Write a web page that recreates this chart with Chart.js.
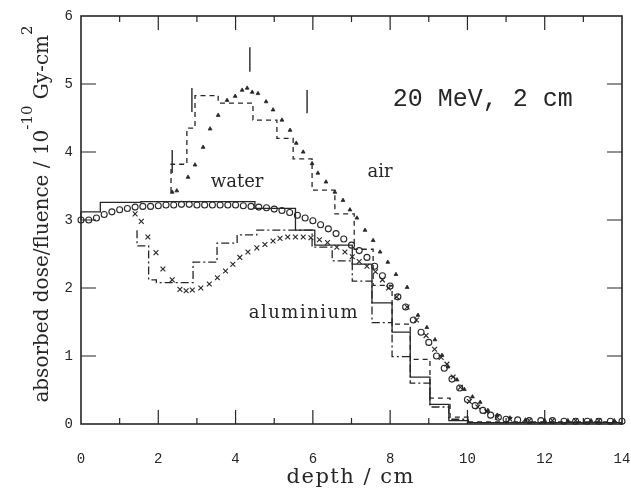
<!DOCTYPE html>
<html>
<head>
<meta charset="utf-8">
<script src="https://cdn.jsdelivr.net/npm/chart.js@4.4.1/dist/chart.umd.min.js"></script>
<style>
  html, body { margin: 0; padding: 0; background: #fff; }
  #wrap { width: 631px; height: 496px; }
</style>
</head>
<body>
<div id="wrap"><canvas id="dose"></canvas></div>
<script>
// axis ticks
const depthTicks = [0, 2, 4, 6, 8, 10, 12, 14];
const doseTicks = [0, 1, 2, 3, 4, 5, 6];

// measured depth-dose points (cm, 1e-10 Gy cm^2)
const waterDepth = [0.0, 0.2, 0.4, 0.6, 0.8, 1.0, 1.2, 1.4, 1.6, 1.8, 2.0, 2.2, 2.4, 2.6, 2.8, 3.0, 3.2, 3.4, 3.6, 3.8,
  4.0, 4.2, 4.4, 4.6, 4.8, 5.0, 5.2, 5.4, 5.6, 5.8, 6.0, 6.2, 6.4, 6.6, 6.8, 7.0, 7.2, 7.4, 7.6, 7.8,
  8.0, 8.2, 8.4, 8.6, 8.8, 9.0, 9.2, 9.4, 9.6, 9.8, 10.0, 10.2, 10.4, 10.6, 10.8, 11.0, 11.3, 11.6, 11.9, 12.2,
  12.5, 12.8, 13.1, 13.4, 13.7, 14.0];
const waterDose = [3.00, 3.00, 3.03, 3.08, 3.12, 3.15, 3.17, 3.19, 3.20, 3.20, 3.21, 3.22, 3.22, 3.23, 3.23, 3.22, 3.22, 3.22, 3.22, 3.22,
  3.22, 3.21, 3.20, 3.19, 3.18, 3.16, 3.14, 3.11, 3.07, 3.03, 2.99, 2.93, 2.87, 2.80, 2.72, 2.63, 2.55, 2.45, 2.32, 2.18,
  2.03, 1.87, 1.72, 1.53, 1.35, 1.20, 1.00, 0.82, 0.66, 0.53, 0.36, 0.27, 0.20, 0.13, 0.10, 0.07, 0.06, 0.05, 0.05, 0.05,
  0.04, 0.04, 0.04, 0.04, 0.04, 0.04];

const airDepth = [2.36, 2.48, 2.77, 2.95, 3.16, 3.34, 3.55, 3.78, 3.99, 4.17, 4.30, 4.43, 4.58, 4.79, 4.97, 5.20, 5.41, 5.57,
  5.75, 5.98, 6.13, 6.34, 6.57, 6.78, 6.96, 7.14, 7.35, 7.56, 7.74, 7.94, 8.15, 8.44, 8.72, 8.95, 9.16, 9.34, 9.50, 9.73,
  9.92, 10.13, 10.33, 10.53, 10.77, 11.10, 11.50, 12.00, 12.60, 13.20, 13.80];
const airDose = [3.41, 3.43, 3.63, 3.81, 4.07, 4.34, 4.54, 4.76, 4.82, 4.91, 4.94, 4.88, 4.86, 4.74, 4.62, 4.47, 4.32, 4.13,
  4.00, 3.83, 3.69, 3.56, 3.41, 3.29, 3.15, 3.03, 2.85, 2.70, 2.53, 2.38, 2.20, 2.01, 1.60, 1.42, 1.24, 1.01, 0.84, 0.65,
  0.51, 0.40, 0.32, 0.20, 0.13, 0.09, 0.06, 0.05, 0.05, 0.05, 0.05];

const aluDepth = [1.40, 1.56, 1.73, 1.94, 2.12, 2.36, 2.56, 2.72, 2.88, 3.10, 3.32, 3.53, 3.74, 3.93, 4.11, 4.32, 4.55, 4.76,
  4.97, 5.15, 5.35, 5.55, 5.75, 5.95, 6.17, 6.38, 6.62, 6.83, 7.02, 7.20, 7.40, 7.62, 7.80, 7.96, 8.17, 8.44, 8.68, 8.93,
  9.15, 9.32, 9.47, 9.63, 9.82, 10.05, 10.27, 10.50, 10.77, 11.10, 11.60, 12.20, 12.80, 13.40];
const aluDose = [3.09, 2.98, 2.75, 2.52, 2.28, 2.12, 1.98, 1.96, 1.97, 2.00, 2.06, 2.15, 2.25, 2.35, 2.45, 2.53, 2.59, 2.64,
  2.69, 2.73, 2.75, 2.75, 2.75, 2.74, 2.71, 2.67, 2.60, 2.53, 2.46, 2.39, 2.32, 2.24, 2.12, 2.00, 1.87, 1.72, 1.53, 1.30,
  1.10, 0.98, 0.88, 0.69, 0.54, 0.33, 0.25, 0.18, 0.10, 0.07, 0.05, 0.05, 0.05, 0.05];

// Monte Carlo histograms: bin edges and dose per bin
const waterEdges = [0, 0.5, 1.55, 4.5, 5.55, 6.05, 7.02, 7.53, 8.05, 8.52, 9.03, 9.52, 10.02, 11.0, 14];
const waterHist = [3.00, 3.12, 3.26, 3.27, 3.17, 2.85, 2.63, 2.35, 1.78, 1.35, 0.69, 0.29, 0.05, 0.02];

const airEdges = [2.33, 2.74, 2.95, 3.55, 4.45, 5.07, 5.49, 5.98, 6.57, 7.07, 7.56, 8.05, 8.52, 9.03, 9.55, 10.02, 10.6, 14];
const airHist = [3.41, 3.82, 4.35, 4.83, 4.72, 4.47, 4.20, 3.90, 3.44, 3.09, 2.57, 2.04, 1.47, 0.95, 0.38, 0.10, 0.03];

const aluEdges = [1.45, 1.75, 1.95, 2.9, 3.52, 4.04, 4.55, 5.98, 6.5, 7.02, 7.53, 8.05, 8.52, 9.03, 9.52, 10.02, 10.6, 14];
const aluHist = [2.85, 2.62, 2.12, 2.08, 2.38, 2.66, 2.78, 2.85, 2.60, 2.40, 2.10, 1.49, 0.99, 0.60, 0.25, 0.07, 0.02];

// short vertical markers above the air curve
const markerDepth = [2.36, 2.87, 4.37, 5.85];
const markerLow = [3.69, 4.59, 5.18, 4.57];
const markerHigh = [4.03, 4.94, 5.54, 4.91];

const ink = '#262626';

function zip(xs, ys) {
    return xs.map((x, i) => ({ x: x, y: ys[i] }));
}

// one point per bin left edge, plus the closing edge, for a stepped line
function stepPoints(edges, vals) {
    const pts = vals.map((v, i) => ({ x: edges[i], y: v }));
    pts.push({ x: edges[edges.length - 1], y: vals[vals.length - 1] });
    return pts;
}

const histStyle = {
    showLine: true,
    stepped: 'after',
    pointRadius: 0,
    borderColor: ink,
    borderWidth: 1.3,
    fill: false
};

const datasets = [
    Object.assign({ label: 'water MC', data: stepPoints(waterEdges, waterHist) }, histStyle),
    Object.assign({ label: 'air MC', data: stepPoints(airEdges, airHist), borderDash: [5, 4] }, histStyle),
    Object.assign({ label: 'aluminium MC', data: stepPoints(aluEdges, aluHist), borderDash: [8, 3, 2, 3] }, histStyle),
    {
        label: 'water',
        data: zip(waterDepth, waterDose),
        pointStyle: 'circle',
        pointRadius: 3,
        borderWidth: 1.1,
        borderColor: ink,
        backgroundColor: 'rgba(255,255,255,0)'
    },
    {
        label: 'air',
        data: zip(airDepth, airDose),
        pointStyle: 'triangle',
        pointRadius: 2.2,
        borderWidth: 0.8,
        borderColor: ink,
        backgroundColor: ink
    },
    {
        label: 'aluminium',
        data: zip(aluDepth, aluDose),
        pointStyle: 'crossRot',
        pointRadius: 3.4,
        borderWidth: 1.1,
        borderColor: ink
    }
];

markerDepth.forEach((d, i) => {
    datasets.push({
        label: 'marker ' + i,
        data: [{ x: d, y: markerLow[i] }, { x: d, y: markerHigh[i] }],
        showLine: true,
        pointRadius: 0,
        borderColor: ink,
        borderWidth: 1.4
    });
});

// writes a string centred on x with a little extra spacing between glyphs
function spacedText(ctx, text, x, y, spacing) {
    ctx.textAlign = 'left';
    let w = 0;
    for (const ch of text) w += ctx.measureText(ch).width + spacing;
    w -= spacing;
    let cx = x - w / 2;
    for (const ch of text) {
        ctx.fillText(ch, cx, y);
        cx += ctx.measureText(ch).width + spacing;
    }
}

// frame with inward ticks, axis titles and curve labels
const framePlugin = {
    id: 'frame',
    afterDatasetsDraw(chart) {
        const { ctx, chartArea: a, scales: { x, y } } = chart;
        ctx.save();
        ctx.strokeStyle = ink;
        ctx.lineWidth = 1.6;
        ctx.strokeRect(a.left, a.top, a.right - a.left, a.bottom - a.top);

        ctx.lineWidth = 1.2;
        ctx.beginPath();
        for (let d = 1; d < 14; d++) {
            const px = x.getPixelForValue(d);
            const len = d % 2 === 0 ? 14 : 6;
            ctx.moveTo(px, a.bottom);
            ctx.lineTo(px, a.bottom - len);
            ctx.moveTo(px, a.top);
            ctx.lineTo(px, a.top + len);
        }
        for (let v = 1; v < 6; v++) {
            const py = y.getPixelForValue(v);
            ctx.moveTo(a.left, py);
            ctx.lineTo(a.left + 15, py);
            ctx.moveTo(a.right, py);
            ctx.lineTo(a.right - 15, py);
        }
        ctx.stroke();

        ctx.fillStyle = ink;
        ctx.textBaseline = 'alphabetic';

        // x title
        ctx.font = '21px "DejaVu Serif"';
        spacedText(ctx, 'depth / cm', 350, 483, 1.5);

        // y title, rotated, with superscripts
        ctx.save();
        ctx.translate(48, 214);
        ctx.rotate(-Math.PI / 2);
        const parts = [
            ['absorbed dose/fluence / 10', false],
            ['-10', true],
            [' Gy-cm', false],
            ['2', true]
        ];
        const fontFor = sup => sup ? '15px "DejaVu Serif"' : '20px "DejaVu Serif"';
        let total = 0;
        parts.forEach(([t, sup]) => { ctx.font = fontFor(sup); total += ctx.measureText(t).width; });
        let cx = -total / 2;
        ctx.textAlign = 'left';
        parts.forEach(([t, sup]) => {
            ctx.font = fontFor(sup);
            ctx.fillText(t, cx, sup ? -16 : 0);
            cx += ctx.measureText(t).width;
        });
        ctx.restore();

        // curve labels
        ctx.font = '18px "DejaVu Serif"';
        spacedText(ctx, 'water', x.getPixelForValue(4.04), y.getPixelForValue(3.49), 0);
        spacedText(ctx, 'air', x.getPixelForValue(7.74), y.getPixelForValue(3.63), 0);
        spacedText(ctx, 'aluminium', x.getPixelForValue(5.75), y.getPixelForValue(1.56), 1.5);

        ctx.font = '25px "Liberation Mono"';
        ctx.textAlign = 'left';
        ctx.fillText('20 MeV, 2 cm', x.getPixelForValue(8.07), y.getPixelForValue(4.68));
        ctx.restore();
    }
};

new Chart(document.getElementById('dose'), {
    type: 'scatter',
    data: { datasets: datasets },
    plugins: [framePlugin],
    options: {
        responsive: true,
        maintainAspectRatio: false,
        animation: false,
        clip: false,
        layout: { padding: { left: 0, right: 9, top: 16, bottom: 0 } },
        plugins: {
            legend: { display: false },
            tooltip: { enabled: false }
        },
        scales: {
            x: {
                type: 'linear',
                min: 0,
                max: 14,
                afterBuildTicks: s => { s.ticks = depthTicks.map(v => ({ value: v })); },
                afterFit: s => { s.height = 72; s.paddingLeft = 0; s.paddingRight = 0; },
                grid: { display: false, drawTicks: false },
                border: { display: false },
                ticks: {
                    padding: 27,
                    color: ink,
                    maxRotation: 0,
                    font: { family: 'Liberation Mono', size: 14 }
                }
            },
            y: {
                type: 'linear',
                min: 0,
                max: 6,
                afterBuildTicks: s => { s.ticks = doseTicks.map(v => ({ value: v })); },
                afterFit: s => { s.width = 81; s.paddingTop = 0; s.paddingBottom = 0; },
                grid: { display: false, drawTicks: false },
                border: { display: false },
                ticks: {
                    padding: 8,
                    color: ink,
                    font: { family: 'Liberation Mono', size: 14 }
                }
            }
        }
    }
});
</script>
</body>
</html>
